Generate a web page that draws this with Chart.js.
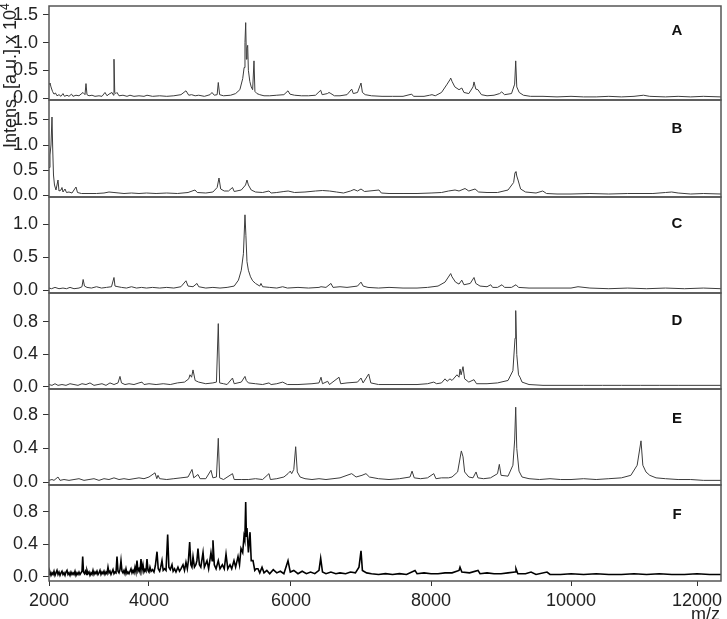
<!DOCTYPE html>
<html lang="en">
<head>
<meta charset="UTF-8">
<title>Spectra A-F</title>
<script src="https://cdn.jsdelivr.net/npm/chart.js@4"></script>
<style>
  html, body { margin: 0; padding: 0; background: #fff; }
  #wrap { position: relative; width: 727px; height: 619px; overflow: hidden; font-family: "Liberation Sans", Arial, sans-serif; color: #222; }
  #wrap canvas { position: absolute; left: 0; }
  #ytitle { position: absolute; left: 1px; top: 148px; font-size: 18px; line-height: 18px; white-space: nowrap; transform-origin: left top; transform: rotate(-90deg); }
  #ytitle sup { font-size: 12px; line-height: 0; vertical-align: 7px; }
  #xtitle { position: absolute; left: 691px; top: 605px; font-size: 18px; line-height: 18px; }
</style>
</head>
<body>
<div id="wrap">
  <div id="ytitle">Intens. [a.u.] x 10<sup>4</sup></div>
  <div id="xtitle">m/z</div>
</div>
<script>
// tick labels
const mzTicks = [2000, 4000, 6000, 8000, 10000, 12000];
const yTicksWide = [0, 0.5, 1.0, 1.5];
const yTicksMid = [0, 0.5, 1.0];
const yTicksLow = [0, 0.4, 0.8];

// panel letters
const panelLetters = ['A', 'B', 'C', 'D', 'E', 'F'];

// spectrum A (m/z, intensity x 10^4)
const mzA = [2000,2020,2040,2070,2100,2130,2160,2200,2240,2280,2310,2360,2400,2450,2480,2540,2600,2680,2720,2740,2760,2800,2860,2920,3000,3060,3120,3160,3200,3260,3290,3300,3315,3340,3360,3400,3480,3560,3620,3700,3800,3900,3960,4050,4150,4250,4350,4450,4521,4560,4600,4650,4700,4780,4860,4887,4920,4960,4976,4995,5050,5150,5220,5280,5320,5340,5352,5362,5372,5380,5390,5400,5420,5440,5460,5479,5492,5520,5560,5620,5700,5800,5900,5958,5985,6050,6150,6250,6350,6424,6445,6520,6543,6570,6620,6700,6800,6867,6890,6950,7000,7020,7060,7150,7300,7450,7600,7724,7750,7900,7980,8014,8060,8150,8230,8270,8281,8300,8340,8400,8440,8470,8540,8600,8614,8640,8670,8720,8800,8900,8980,9010,9050,9150,9195,9210,9225,9260,9320,9420,9600,9800,10000,10200,10400,10600,10800,11000,11150,11250,11500,11700,11900,12100,12380];
const intA = [0.25,0.27,0.2,0.12,0.07,0.09,0.04,0.06,0.03,0.08,0.03,0.05,0.03,0.07,0.03,0.05,0.04,0.1,0.06,0.26,0.06,0.04,0.05,0.03,0.04,0.03,0.1,0.04,0.07,0.1,0.05,0.7,0.1,0.08,0.1,0.04,0.05,0.03,0.05,0.03,0.04,0.03,0.05,0.03,0.04,0.03,0.04,0.06,0.13,0.05,0.06,0.04,0.05,0.03,0.06,0.1,0.05,0.06,0.28,0.06,0.04,0.05,0.08,0.15,0.35,0.55,1.0,1.36,0.7,0.9,0.95,0.5,0.3,0.2,0.15,0.67,0.12,0.08,0.06,0.04,0.04,0.05,0.06,0.13,0.07,0.05,0.04,0.04,0.05,0.14,0.06,0.08,0.1,0.08,0.04,0.04,0.06,0.16,0.08,0.1,0.27,0.1,0.06,0.04,0.03,0.03,0.03,0.07,0.03,0.03,0.05,0.06,0.04,0.1,0.25,0.33,0.36,0.3,0.2,0.15,0.18,0.1,0.08,0.2,0.29,0.16,0.15,0.06,0.04,0.05,0.08,0.11,0.06,0.08,0.25,0.67,0.2,0.1,0.05,0.03,0.03,0.02,0.03,0.02,0.02,0.03,0.02,0.03,0.05,0.03,0.02,0.03,0.02,0.03,0.02];

// spectrum B
const mzB = [2000,2020,2040,2060,2075,2090,2110,2140,2180,2200,2240,2260,2280,2320,2350,2400,2460,2540,2570,2650,2800,2950,3100,3200,3300,3400,3500,3650,3800,3950,4100,4250,4400,4550,4648,4680,4800,4900,4960,4986,5010,5060,5120,5176,5200,5300,5360,5380,5400,5440,5500,5600,5690,5720,5800,5900,5960,6050,6200,6350,6450,6550,6650,6750,6850,6900,6950,7000,7050,7257,7290,7400,7600,7800,8000,8150,8250,8343,8400,8486,8540,8629,8680,8800,8950,9100,9180,9200,9214,9225,9243,9280,9350,9500,9596,9650,9800,10000,10300,10600,10900,11300,11500,11598,11700,11900,12100,12380];
const intB = [0.55,0.8,1.0,1.56,0.9,0.4,0.2,0.1,0.3,0.08,0.1,0.15,0.06,0.12,0.05,0.06,0.04,0.16,0.05,0.03,0.03,0.03,0.04,0.06,0.05,0.04,0.03,0.04,0.03,0.04,0.03,0.04,0.03,0.05,0.1,0.05,0.04,0.06,0.15,0.34,0.12,0.08,0.08,0.15,0.07,0.1,0.2,0.3,0.2,0.1,0.06,0.05,0.08,0.04,0.05,0.07,0.08,0.05,0.06,0.08,0.09,0.08,0.06,0.04,0.08,0.11,0.08,0.12,0.07,0.1,0.04,0.03,0.03,0.03,0.04,0.05,0.08,0.1,0.08,0.13,0.08,0.12,0.06,0.05,0.05,0.1,0.25,0.45,0.47,0.38,0.3,0.12,0.06,0.04,0.08,0.03,0.02,0.02,0.03,0.02,0.03,0.03,0.05,0.06,0.04,0.02,0.03,0.02];

// spectrum C
const mzC = [2000,2050,2120,2200,2280,2350,2420,2500,2600,2660,2683,2710,2760,2850,2950,3050,3150,3250,3300,3320,3380,3450,3550,3650,3750,3850,3950,4050,4150,4250,4350,4450,4521,4550,4620,4676,4700,4800,4900,5000,5100,5200,5260,5300,5330,5352,5365,5380,5400,5430,5460,5500,5560,5577,5600,5700,5800,5883,5950,6100,6250,6400,6429,6500,6571,6600,6700,6800,6950,7000,7030,7100,7250,7400,7600,7800,7950,8100,8200,8281,8300,8350,8400,8439,8470,8560,8614,8640,8700,8800,8853,8880,8950,9014,9050,9150,9214,9250,9400,9700,10000,10111,10300,10600,10900,11200,11500,11800,12100,12380];
const intC = [0.03,0.02,0.04,0.02,0.03,0.02,0.04,0.02,0.03,0.05,0.16,0.06,0.04,0.03,0.05,0.03,0.04,0.05,0.19,0.06,0.05,0.04,0.03,0.05,0.03,0.04,0.03,0.04,0.03,0.04,0.03,0.05,0.14,0.06,0.05,0.1,0.05,0.03,0.04,0.03,0.04,0.06,0.15,0.3,0.55,1.14,0.83,0.43,0.3,0.2,0.14,0.1,0.06,0.1,0.05,0.04,0.03,0.05,0.03,0.04,0.03,0.04,0.05,0.04,0.1,0.04,0.05,0.04,0.06,0.12,0.06,0.04,0.03,0.04,0.03,0.03,0.04,0.06,0.12,0.25,0.2,0.12,0.09,0.15,0.08,0.1,0.19,0.1,0.06,0.05,0.08,0.04,0.04,0.08,0.04,0.04,0.08,0.04,0.03,0.03,0.03,0.05,0.03,0.02,0.03,0.02,0.03,0.02,0.03,0.02];

// spectrum D
const mzD = [2000,2060,2120,2180,2260,2340,2420,2500,2580,2660,2740,2820,2900,2980,3060,3140,3220,3300,3380,3420,3450,3520,3600,3700,3800,3860,3900,4000,4100,4200,4300,4400,4500,4560,4577,4600,4620,4650,4700,4800,4900,4950,4976,4995,5050,5100,5176,5200,5300,5352,5370,5400,5500,5600,5690,5720,5800,5883,5950,6100,6300,6400,6429,6450,6524,6550,6686,6710,6800,6950,7000,7030,7110,7140,7250,7400,7600,7800,7950,8039,8080,8150,8200,8230,8271,8300,8371,8400,8414,8430,8457,8480,8540,8614,8650,8800,8950,9100,9170,9200,9210,9225,9250,9271,9300,9400,9600,9900,10200,10500,10800,11100,11400,11700,12000,12380];
const intD = [0.03,0.02,0.04,0.02,0.03,0.02,0.04,0.03,0.02,0.04,0.03,0.05,0.02,0.03,0.04,0.02,0.05,0.03,0.05,0.13,0.05,0.03,0.04,0.03,0.05,0.06,0.03,0.04,0.03,0.04,0.03,0.05,0.06,0.1,0.15,0.12,0.21,0.08,0.06,0.04,0.05,0.06,0.78,0.05,0.04,0.03,0.11,0.04,0.06,0.13,0.08,0.05,0.04,0.03,0.05,0.03,0.04,0.06,0.03,0.03,0.04,0.05,0.12,0.04,0.07,0.03,0.12,0.04,0.05,0.06,0.11,0.05,0.16,0.05,0.03,0.03,0.03,0.03,0.04,0.06,0.04,0.05,0.1,0.07,0.1,0.08,0.15,0.12,0.22,0.15,0.25,0.1,0.06,0.09,0.04,0.04,0.05,0.08,0.2,0.6,0.94,0.4,0.15,0.12,0.06,0.03,0.02,0.02,0.02,0.02,0.02,0.02,0.02,0.02,0.02,0.02];

// spectrum E
const mzE = [2000,2060,2100,2180,2220,2300,2400,2500,2600,2700,2800,2900,3000,3100,3200,3300,3400,3500,3600,3700,3800,3900,4000,4085,4110,4127,4150,4250,4350,4450,4550,4606,4630,4690,4720,4800,4873,4900,4950,4976,4995,5050,5176,5200,5300,5400,5500,5600,5690,5710,5800,5900,5958,5990,6010,6040,6067,6090,6130,6200,6300,6400,6500,6600,6700,6800,6867,6930,7014,7071,7120,7250,7400,7550,7700,7729,7760,7850,7950,8039,8070,8150,8250,8300,8380,8433,8457,8480,8540,8600,8643,8670,8750,8850,8950,8976,9000,9100,9170,9195,9210,9225,9257,9300,9400,9550,9700,9850,10000,10200,10400,10600,10800,10950,11050,11111,11140,11190,11250,11350,11500,11700,11900,12100,12380];
const intE = [0.02,0.03,0.02,0.06,0.02,0.03,0.02,0.03,0.04,0.02,0.03,0.04,0.02,0.04,0.03,0.05,0.03,0.04,0.03,0.04,0.05,0.04,0.06,0.11,0.04,0.08,0.04,0.03,0.04,0.05,0.06,0.15,0.05,0.09,0.04,0.04,0.14,0.05,0.06,0.52,0.05,0.03,0.1,0.03,0.03,0.03,0.04,0.03,0.1,0.03,0.04,0.06,0.1,0.13,0.1,0.15,0.42,0.12,0.06,0.04,0.03,0.04,0.03,0.04,0.05,0.08,0.1,0.06,0.08,0.1,0.06,0.04,0.03,0.04,0.06,0.13,0.05,0.04,0.05,0.1,0.04,0.05,0.05,0.06,0.12,0.37,0.3,0.12,0.06,0.05,0.12,0.05,0.04,0.05,0.1,0.21,0.08,0.07,0.2,0.5,0.89,0.4,0.13,0.06,0.04,0.03,0.04,0.03,0.03,0.04,0.03,0.04,0.05,0.08,0.2,0.49,0.2,0.12,0.08,0.05,0.04,0.03,0.03,0.02,0.02];

// spectrum F
const mzF = [2000,2020,2040,2060,2080,2100,2120,2140,2160,2180,2200,2220,2240,2260,2280,2300,2320,2340,2360,2380,2400,2420,2440,2460,2480,2500,2520,2540,2560,2580,2600,2620,2640,2660,2674,2690,2710,2730,2750,2760,2780,2800,2820,2840,2860,2880,2900,2920,2940,2960,2980,3000,3020,3040,3060,3080,3100,3120,3140,3160,3180,3200,3220,3240,3260,3280,3300,3320,3340,3360,3380,3400,3420,3440,3460,3480,3500,3520,3540,3560,3580,3600,3620,3640,3660,3680,3700,3720,3740,3760,3780,3800,3820,3840,3860,3880,3900,3920,3940,3960,3980,4000,4014,4030,4050,4070,4090,4113,4130,4150,4165,4183,4200,4220,4240,4263,4280,4300,4324,4340,4360,4380,4408,4430,4450,4479,4500,4521,4540,4555,4573,4590,4605,4620,4640,4660,4675,4690,4710,4730,4761,4780,4817,4840,4873,4890,4901,4920,4945,4976,5000,5033,5060,5085,5110,5141,5165,5197,5220,5254,5275,5296,5320,5338,5350,5362,5372,5380,5400,5423,5440,5465,5490,5510,5535,5560,5592,5620,5660,5700,5750,5800,5850,5900,5958,5990,6040,6100,6160,6220,6280,6340,6400,6424,6450,6500,6570,6640,6700,6780,6850,6920,6971,7000,7020,7080,7150,7250,7350,7450,7550,7650,7771,7800,7900,8000,8100,8200,8300,8400,8414,8440,8550,8671,8700,8800,8900,9000,9100,9200,9214,9240,9350,9429,9500,9657,9700,9850,10000,10200,10400,10600,10800,11000,11200,11400,11600,11800,12000,12200,12380];
const intF = [0.03,0.06,0.02,0.05,0.03,0.07,0.02,0.05,0.08,0.03,0.06,0.02,0.05,0.07,0.03,0.05,0.02,0.06,0.08,0.03,0.05,0.02,0.06,0.03,0.05,0.03,0.07,0.02,0.05,0.03,0.06,0.03,0.05,0.07,0.25,0.06,0.04,0.07,0.03,0.08,0.04,0.06,0.02,0.05,0.03,0.08,0.03,0.06,0.04,0.07,0.03,0.05,0.08,0.03,0.06,0.04,0.07,0.03,0.06,0.04,0.12,0.05,0.07,0.03,0.06,0.09,0.04,0.06,0.05,0.25,0.07,0.05,0.09,0.2,0.07,0.05,0.08,0.04,0.1,0.04,0.06,0.04,0.07,0.1,0.05,0.08,0.05,0.12,0.06,0.2,0.07,0.1,0.06,0.22,0.08,0.15,0.06,0.09,0.07,0.22,0.08,0.06,0.12,0.07,0.09,0.06,0.14,0.31,0.1,0.07,0.12,0.2,0.08,0.1,0.08,0.52,0.12,0.09,0.15,0.07,0.1,0.06,0.12,0.07,0.1,0.15,0.08,0.18,0.1,0.2,0.43,0.15,0.12,0.25,0.12,0.15,0.2,0.35,0.15,0.12,0.3,0.12,0.2,0.1,0.3,0.2,0.45,0.15,0.1,0.2,0.1,0.15,0.1,0.28,0.1,0.15,0.1,0.2,0.12,0.25,0.15,0.35,0.3,0.5,0.45,0.92,0.5,0.6,0.3,0.55,0.2,0.2,0.08,0.1,0.1,0.05,0.12,0.05,0.08,0.04,0.09,0.05,0.07,0.04,0.2,0.06,0.08,0.04,0.07,0.04,0.06,0.04,0.08,0.23,0.06,0.04,0.06,0.04,0.05,0.04,0.06,0.05,0.12,0.32,0.08,0.05,0.04,0.03,0.04,0.03,0.04,0.03,0.08,0.04,0.05,0.04,0.04,0.05,0.05,0.08,0.12,0.06,0.05,0.08,0.04,0.05,0.04,0.04,0.05,0.06,0.1,0.04,0.04,0.06,0.03,0.06,0.03,0.03,0.04,0.03,0.04,0.03,0.03,0.04,0.03,0.04,0.03,0.03,0.04,0.03,0.03];

// m/z axis calibration: tick value -> fraction of the plot width (the printed axis is not evenly spaced)
const axisVals = [2000, 4000, 6000, 8000, 10000, 12000, 12380];
const axisFrac = [0, 0.1488, 0.3601, 0.5685, 0.7768, 0.9643, 1];

function interp(v, xs, ys) {
  if (v <= xs[0]) return ys[0] + (v - xs[0]) * (ys[1] - ys[0]) / (xs[1] - xs[0]);
  for (let i = 1; i < xs.length; i++) {
    if (v <= xs[i]) return ys[i - 1] + (v - xs[i - 1]) * (ys[i] - ys[i - 1]) / (xs[i] - xs[i - 1]);
  }
  const n = xs.length - 1;
  return ys[n] + (v - xs[n]) * (ys[n] - ys[n - 1]) / (xs[n] - xs[n - 1]);
}

class MzScale extends Chart.LinearScale {
  getPixelForValue(value) {
    return value === null ? NaN : this.getPixelForDecimal(interp(value, axisVals, axisFrac));
  }
  getValueForPixel(pixel) {
    return interp(this.getDecimalForPixel(pixel), axisFrac, axisVals);
  }
}
MzScale.id = 'mz';
MzScale.defaults = Chart.LinearScale.defaults;
Chart.register(MzScale);

const framePlugin = {
  id: 'panelFrame',
  afterDraw(chart, args, opts) {
    const { ctx, chartArea: a } = chart;
    ctx.save();
    ctx.strokeStyle = '#555';
    ctx.lineWidth = 1.5;
    ctx.strokeRect(a.left, a.top, a.right - a.left, a.bottom - a.top);
    ctx.font = 'bold 15px "Liberation Sans", Arial, sans-serif';
    ctx.fillStyle = '#111';
    ctx.textAlign = 'center';
    ctx.textBaseline = 'middle';
    ctx.fillText(opts.letter, a.right - 44, a.top + opts.dy);
    ctx.restore();
  }
};

const panels = [
  { mz: mzA, v: intA, ticks: yTicksWide, min: -0.036, max: 1.66, top: 6, bottom: 100, dy: 25, color: '#3c3c3c', width: 1 },
  { mz: mzB, v: intB, ticks: yTicksWide, min: -0.04, max: 1.9, top: 100, bottom: 197, dy: 29, color: '#3c3c3c', width: 1 },
  { mz: mzC, v: intC, ticks: yTicksMid, min: -0.045, max: 1.41, top: 197, bottom: 293, dy: 27, color: '#3c3c3c', width: 1 },
  { mz: mzD, v: intD, ticks: yTicksLow, min: -0.025, max: 1.157, top: 293, bottom: 389, dy: 28, color: '#3c3c3c', width: 1 },
  { mz: mzE, v: intE, ticks: yTicksLow, min: -0.035, max: 1.106, top: 389, bottom: 485, dy: 30, color: '#3c3c3c', width: 1 },
  { mz: mzF, v: intF, ticks: yTicksLow, min: -0.05, max: 1.13, top: 485, bottom: 581, dy: 30, color: '#000', width: 1.6 }
];

const tickFont = { family: '"Liberation Sans", Arial, sans-serif', size: 18 };
const PAD = 14;
const wrap = document.getElementById('wrap');

panels.forEach((p, i) => {
  const last = i === panels.length - 1;
  const top = p.top - PAD;
  const h = last ? 619 - top : p.bottom - p.top + 2 * PAD;
  const cv = document.createElement('canvas');
  cv.width = 727;
  cv.height = h;
  cv.style.top = top + 'px';
  wrap.insertBefore(cv, wrap.firstChild);

  new Chart(cv, {
    type: 'line',
    data: {
      datasets: [{
        data: p.mz.map((x, k) => ({ x: x, y: p.v[k] })),
        borderColor: p.color,
        borderWidth: p.width,
        pointRadius: 0,
        tension: 0,
        fill: false
      }]
    },
    options: {
      responsive: false,
      animation: false,
      events: [],
      layout: { padding: { top: PAD, bottom: last ? 0 : PAD, left: 0, right: 6 } },
      plugins: {
        legend: { display: false },
        tooltip: { enabled: false },
        panelFrame: { letter: panelLetters[i], dy: p.dy }
      },
      scales: {
        x: {
          type: 'mz',
          min: 2000,
          max: 12380,
          bounds: 'data',
          display: last,
          afterBuildTicks: s => { s.ticks = mzTicks.map(v => ({ value: v })); },
          afterFit: s => {
            s.height = last ? 38 : 0;
            s.paddingLeft = 0;
            s.paddingRight = 0;
          },
          grid: { drawOnChartArea: false, drawTicks: true, tickLength: 5, color: '#333' },
          border: { display: false },
          ticks: { font: tickFont, color: '#222', padding: 4, maxRotation: 0, autoSkip: false, callback: v => String(v) }
        },
        y: {
          min: p.min,
          max: p.max,
          bounds: 'data',
          afterBuildTicks: s => { s.ticks = p.ticks.map(v => ({ value: v })); },
          afterFit: s => { s.width = 49; s.paddingTop = 0; s.paddingBottom = 0; },
          grid: { drawOnChartArea: false, drawTicks: true, tickLength: 6, color: '#333' },
          border: { display: false },
          ticks: { font: tickFont, color: '#222', padding: 5, callback: v => v.toFixed(1) }
        }
      }
    },
    plugins: [framePlugin]
  });
});
</script>
</body>
</html>
